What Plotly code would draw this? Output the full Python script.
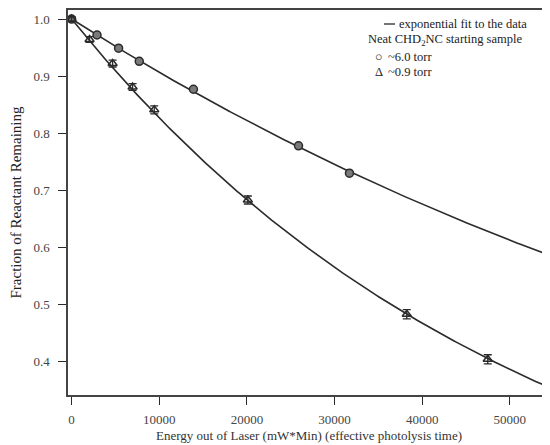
import numpy as np
import plotly.graph_objects as go

# Data
circ_x = [0, 2900, 5360, 7720, 13900, 25890, 31700]
circ_y = [1.0, 0.972, 0.949, 0.926, 0.877, 0.778, 0.730]
circ_err = [0.003, 0.003, 0.003, 0.003, 0.003, 0.003, 0.003]

tri_x = [0, 2050, 4680, 6960, 9430, 20110, 38240, 47480]
tri_y = [1.0, 0.964, 0.922, 0.881, 0.841, 0.683, 0.483, 0.404]
tri_err = [0.004, 0.005, 0.006, 0.006, 0.007, 0.007, 0.008, 0.008]

x_ticks = [0, 10000, 20000, 30000, 40000, 50000]
y_ticks = [0.4, 0.5, 0.6, 0.7, 0.8, 0.9, 1.0]
y_tick_text = ["0.4", "0.5", "0.6", "0.7", "0.8", "0.9", "1.0"]


def fit_rate(x, y):
    x = np.asarray(x, float)
    ly = np.log(np.asarray(y, float))
    return -np.sum(x * ly) / np.sum(x * x)


k_c = fit_rate(circ_x, circ_y)
k_t = fit_rate(tri_x, tri_y)
xf = np.linspace(0, 56000, 300)

ink = "#2b2b2b"
serif = "Liberation Serif, Times New Roman, serif"

fig = go.Figure()
fig.add_trace(go.Scatter(x=xf, y=np.exp(-k_c * xf), mode="lines",
                         line=dict(color=ink, width=1.6), showlegend=False))
fig.add_trace(go.Scatter(x=xf, y=np.exp(-k_t * xf), mode="lines",
                         line=dict(color=ink, width=1.6), showlegend=False))
fig.add_trace(go.Scatter(x=circ_x, y=circ_y, mode="markers",
                         marker=dict(symbol="circle", size=8, color="#7a7a7a",
                                     line=dict(color=ink, width=1.5)),
                         error_y=dict(type="data", array=circ_err, color=ink,
                                      thickness=1.2, width=3),
                         showlegend=False))
fig.add_trace(go.Scatter(x=tri_x, y=tri_y, mode="markers",
                         marker=dict(symbol="triangle-up-open", size=8, color=ink,
                                     line=dict(color=ink, width=1.5)),
                         error_y=dict(type="data", array=tri_err, color=ink,
                                      thickness=1.3, width=4),
                         showlegend=False))

# The page body has an 8px margin; figure pixel = page pixel - 8
OFF = 8
FW, FH = 550 - OFF, 445 - OFF
# plot area in page pixels: x 68..550, y 10..395
L, R, T, B = 68 - OFF, 550 - OFF, 10 - OFF, 395 - OFF
W, H = R - L, B - T


def px(x):
    return (x - OFF - L) / W


def py(y):
    return (B - (y - OFF)) / H


ann_font = dict(family=serif, size=12.5, color="#222")
annotations = [
    dict(x=px(397), y=py(24), text="exponential fit to the data", xanchor="left"),
    dict(x=px(366), y=py(40), text="Neat CHD<sub>2</sub>NC starting sample", xanchor="left"),
    dict(x=px(373), y=py(57), text="○", xanchor="left"),
    dict(x=px(386), y=py(57), text="~6.0 torr", xanchor="left"),
    dict(x=px(373), y=py(72), text="Δ", xanchor="left"),
    dict(x=px(386), y=py(72), text="~0.9 torr", xanchor="left"),
]
for a in annotations:
    a.update(xref="paper", yref="paper", yanchor="middle", showarrow=False,
             font=ann_font)

legend_line = dict(type="line", xref="paper", yref="paper",
                   x0=px(384), x1=px(395), y0=py(24), y1=py(24),
                   line=dict(color=ink, width=1.3))

fig.update_layout(
    width=FW, height=FH,
    margin=dict(l=L, r=FW - R, t=T, b=FH - B),
    paper_bgcolor="white", plot_bgcolor="white",
    annotations=annotations,
    shapes=[legend_line],
    xaxis=dict(range=[-410, 54580], tickvals=x_ticks,
               ticktext=[str(v) for v in x_ticks],
               ticks="outside", ticklen=8, tickwidth=1.2, tickcolor=ink,
               ticklabelstandoff=4,
               showline=True, linecolor="#444", linewidth=1.5, mirror=True,
               showgrid=False, zeroline=False,
               tickfont=dict(family=serif, size=13, color="#444"),
               title=dict(text="Energy out of Laser (mW*Min) (effective photolysis time)",
                          font=dict(family=serif, size=13, color="#333"),
                          standoff=5)),
    yaxis=dict(range=[0.3415, 1.0158], tickvals=y_ticks, ticktext=y_tick_text,
               ticks="outside", ticklen=8, tickwidth=1.2, tickcolor=ink,
               ticklabelstandoff=6,
               showline=True, linecolor="#444", linewidth=1.5,
               showgrid=False, zeroline=False,
               tickfont=dict(family=serif, size=13, color="#444"),
               title=dict(text="Fraction of Reactant Remaining",
                          font=dict(family=serif, size=15, color="#222"),
                          standoff=8)),
)

fig.write_html("out.html")
